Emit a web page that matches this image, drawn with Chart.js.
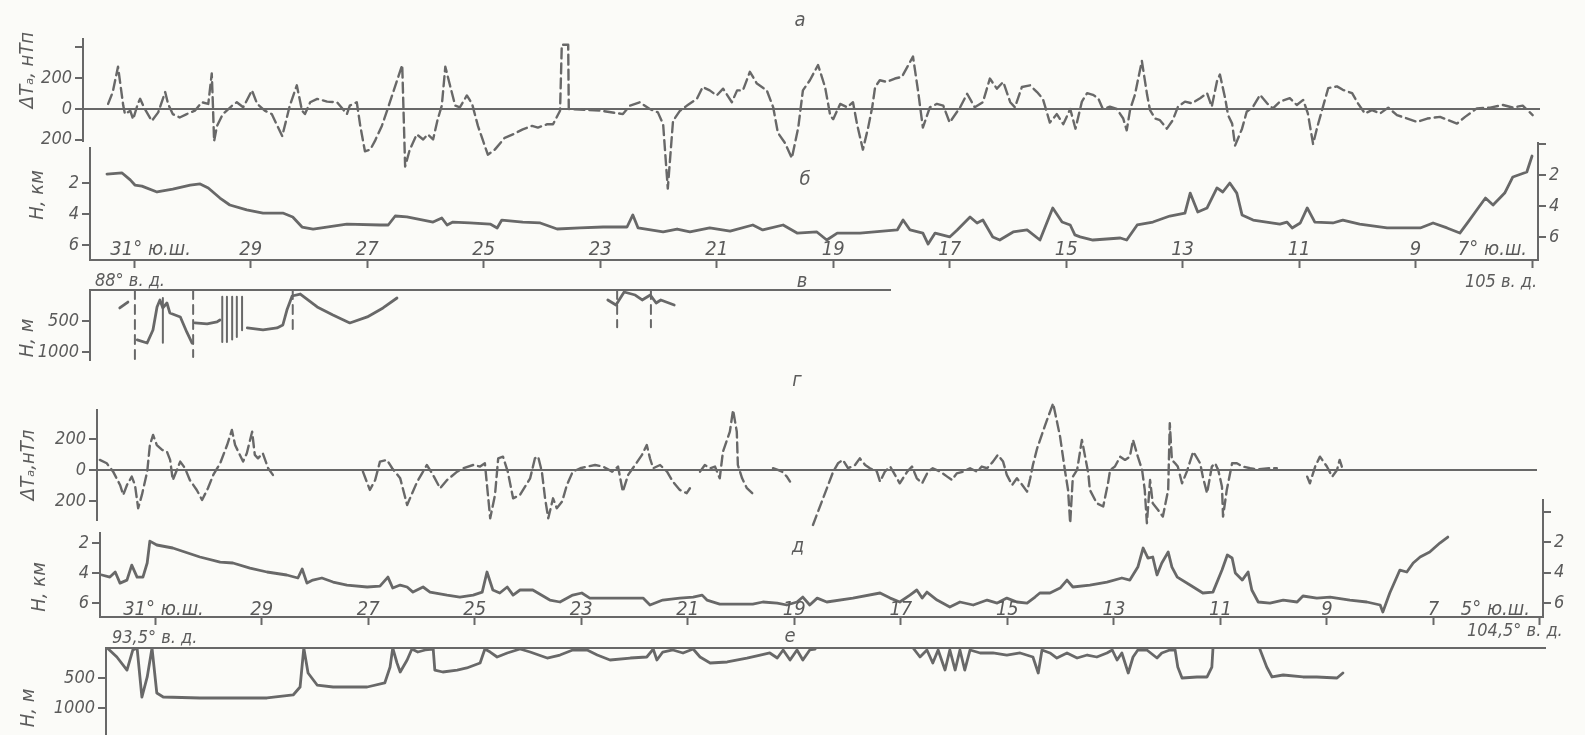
<!DOCTYPE html>
<html lang="ru">
<head>
<meta charset="utf-8">
<title>Профили ΔTa и рельефа дна</title>
<script src="https://cdn.jsdelivr.net/npm/chart.js@4.4.1/dist/chart.umd.min.js"></script>
<style>
  html, body { margin: 0; padding: 0; background: #fbfbf8; }
  #fig { position: relative; width: 1585px; height: 735px; overflow: hidden; }
  #fig canvas { position: absolute; left: 0; top: 0; }
  .t { position: absolute; font-family: "DejaVu Sans Condensed", "DejaVu Sans", sans-serif;
       font-style: italic; color: #5c5c5c; white-space: nowrap; line-height: 1; font-size: 20px; }
  .c { transform: translate(-50%, -50%); }
  .r { transform: translate(-50%, -50%) rotate(-90deg); }
  .m { transform: translateY(-50%); font-size: 18px; }
</style>
</head>
<body>
<div id="fig">
  <canvas id="pA" width="1585" height="735"></canvas>
  <canvas id="pB" width="1585" height="735"></canvas>
  <canvas id="pBR" width="1585" height="735"></canvas>
  <canvas id="pV" width="1585" height="735"></canvas>
  <canvas id="pG" width="1585" height="735"></canvas>
  <canvas id="pD" width="1585" height="735"></canvas>
  <canvas id="pDR" width="1585" height="735"></canvas>
  <canvas id="pE" width="1585" height="735"></canvas>

  <span class="t c" style="left:800px;top:19px">а</span>
  <span class="t c" style="left:805px;top:178px">б</span>
  <span class="t c" style="left:802px;top:280px">в</span>
  <span class="t c" style="left:797px;top:379px">г</span>
  <span class="t c" style="left:798px;top:545px">д</span>
  <span class="t c" style="left:790px;top:635px">е</span>

  <span class="t r" style="left:26px;top:70px">ΔTₐ, нТп</span>
  <span class="t r" style="left:36px;top:195px">H, км</span>
  <span class="t r" style="left:26px;top:338px">H, м</span>
  <span class="t r" style="left:27px;top:465px">ΔTₐ,нТл</span>
  <span class="t r" style="left:38px;top:587px">H, км</span>
  <span class="t r" style="left:27px;top:708px">H, м</span>

  <span class="t m" style="left:95px;top:280px">88° в. д.</span>
  <span class="t m" style="left:1465px;top:281px">105 в. д.</span>
  <span class="t m" style="left:112px;top:637px">93,5° в. д.</span>
  <span class="t m" style="left:1467px;top:630px">104,5° в. д.</span>
</div>
<script>
// ---- latitude ticks (° ю.ш.) ----
const latTop = [31, 29, 27, 25, 23, 21, 19, 17, 15, 13, 11, 9, 7];
const latTopLabels = ['31° ю.ш.', '29', '27', '25', '23', '21', '19', '17', '15', '13', '11', '9', '7° ю.ш.'];
const latBottom = [31, 29, 27, 25, 23, 21, 19, 17, 15, 13, 11, 9, 7, 5];
const latBottomLabels = ['31° ю.ш.', '29', '27', '25', '23', '21', '19', '17', '15', '13', '11', '9', '7', '5° ю.ш.'];

// ---- а: anomaly ΔTa, nT (upper profile) ----
const latA = [
  31.45, 31.37, 31.28, 31.19, 31.16, 31.07, 31.02, 30.94, 30.90, 30.82,
  30.70, 30.59, 30.47, 30.42, 30.34, 30.22, 30.10, 29.96, 29.84, 29.73,
  29.67, 29.65, 29.63, 29.58, 29.48, 29.32, 29.24, 29.13, 28.98, 28.89,
  28.76, 28.64, 28.46, 28.33, 28.21, 28.12, 28.07, 27.98, 27.86, 27.69,
  27.52, 27.42, 27.35, 27.30, 27.18, 27.12, 27.04, 26.95, 26.87, 26.75,
  26.66, 26.40, 26.35, 26.27, 26.15, 26.04, 25.96, 25.87, 25.79, 25.72,
  25.66, 25.58, 25.49, 25.41, 25.29, 25.20, 25.10, 24.93, 24.81, 24.64,
  24.50, 24.33, 24.17, 24.07, 23.91, 23.81, 23.69, 23.66, 23.55, 23.54,
  23.00, 22.61, 22.49, 22.32, 22.15, 22.01, 21.92, 21.84, 21.75, 21.63,
  21.51, 21.34, 21.24, 21.12, 21.00, 20.89, 20.74, 20.65, 20.55, 20.43,
  20.31, 20.14, 20.03, 19.95, 19.83, 19.71, 19.60, 19.52, 19.40, 19.26,
  19.14, 19.05, 19.00, 18.88, 18.76, 18.66, 18.59, 18.49, 18.40, 18.33,
  18.28, 18.20, 18.08, 17.94, 17.82, 17.63, 17.54, 17.51, 17.46, 17.34,
  17.22, 17.11, 17.00, 16.82, 16.70, 16.57, 16.43, 16.31, 16.19, 16.08,
  15.96, 15.88, 15.76, 15.62, 15.50, 15.40, 15.28, 15.16, 15.05, 14.93,
  14.84, 14.73, 14.64, 14.54, 14.45, 14.37, 14.25, 14.13, 14.02, 13.96,
  13.90, 13.82, 13.70, 13.61, 13.56, 13.47, 13.39, 13.27, 13.17, 13.08,
  12.96, 12.84, 12.70, 12.58, 12.50, 12.41, 12.36, 12.27, 12.22, 12.15,
  12.10, 11.98, 11.90, 11.79, 11.67, 11.55, 11.45, 11.33, 11.16, 11.04,
  10.93, 10.85, 10.76, 10.68, 10.59, 10.50, 10.35, 10.25, 10.09, 9.99,
  9.87, 9.75, 9.61, 9.47, 9.32, 9.14, 8.97, 8.80, 8.58, 8.29,
  8.15, 7.95, 7.72, 7.50, 7.33, 7.16, 6.99
];
const anomA = [
  33, 110, 275, 22, -33, -11, -66, 33, 66, 0,
  -77, -22, 110, 33, -33, -55, -33, -11, 44, 33,
  231, 22, -209, -110, -33, 22, 44, 11, 121, 33,
  -11, -33, -176, 22, 154, -11, -33, 44, 66, 48,
  44, 0, -33, 22, 44, -110, -275, -264, -209, -110,
  -11, 286, -374, -264, -165, -198, -165, -198, -66, 22,
  275, 154, 22, 11, 88, 33, -110, -297, -264, -187,
  -165, -132, -110, -121, -99, -99, -11, 418, 418, 0,
  -11, -33, 22, 44, 0, -22, -99, -517, -77, -11,
  22, 66, 143, 121, 88, 132, 44, 121, 121, 242,
  165, 121, 11, -154, -220, -319, -121, 121, 187, 286,
  143, -44, -66, 33, 11, 44, -99, -264, -121, 11,
  143, 187, 176, 198, 209, 341, 110, 22, -121, 11,
  33, 22, -88, 11, 99, 11, 44, 198, 132, 176,
  44, 11, 143, 154, 110, 66, -88, -33, -99, 0,
  -128, 48, 103, 92, 70, 0, 15, 0, -62, -139,
  0, 92, 312, 92, -7, -62, -73, -128, -73, 15,
  48, 37, 70, 103, 15, 180, 224, 70, -40, -95,
  -238, -128, -18, 15, 92, 37, 4, 48, 70, 26,
  59, -29, -227, -106, 15, 136, 147, 125, 103, 37,
  -29, -7, -29, 9, -40, -62, -84, -62, -51, -95,
  -51, 4, 9, 26, 9, 22, -40
];

// ---- б: depth H, km (upper profile) ----
const latB = [
  31.47, 31.21, 31.07, 30.99, 30.87, 30.61, 30.34, 30.04, 29.87, 29.73,
  29.53, 29.36, 29.07, 28.79, 28.45, 28.28, 28.12, 27.93, 27.35, 26.78,
  26.64, 26.52, 26.32, 26.04, 25.87, 25.72, 25.63, 25.53, 25.24, 24.89,
  24.77, 24.69, 24.33, 24.03, 23.74, 23.35, 22.95, 22.54, 22.44, 22.35,
  21.92, 21.68, 21.46, 21.12, 20.77, 20.38, 20.21, 19.86, 19.62, 19.28,
  19.11, 18.93, 18.54, 17.90, 17.80, 17.68, 17.46, 17.37, 17.25, 17.00,
  16.87, 16.65, 16.53, 16.43, 16.26, 16.14, 15.91, 15.67, 15.45, 15.23,
  15.07, 14.93, 14.85, 14.76, 14.54, 14.07, 13.96, 13.78, 13.51, 13.22,
  12.96, 12.87, 12.74, 12.58, 12.41, 12.31, 12.19, 12.07, 11.98, 11.79,
  11.33, 11.21, 11.12, 10.98, 10.86, 10.73, 10.42, 10.25, 9.96, 9.49,
  8.92, 8.70, 8.46, 8.24, 8.10, 7.95, 7.80, 7.67, 7.47, 7.33,
  7.09, 7.00
];
const depthB = [
  1.42, 1.35, 1.80, 2.13, 2.20, 2.58, 2.39, 2.13, 2.06, 2.32,
  2.97, 3.42, 3.74, 3.94, 3.94, 4.19, 4.84, 4.97, 4.65, 4.71,
  4.71, 4.13, 4.19, 4.39, 4.52, 4.26, 4.71, 4.52, 4.58, 4.65,
  4.90, 4.39, 4.52, 4.58, 4.97, 4.90, 4.84, 4.84, 4.06, 4.90,
  5.16, 4.97, 5.16, 4.90, 5.10, 4.71, 5.03, 4.71, 5.23, 5.16,
  5.68, 5.23, 5.23, 5.03, 4.39, 5.03, 5.23, 5.94, 5.23, 5.48,
  5.03, 4.19, 4.58, 4.39, 5.48, 5.68, 5.16, 5.03, 5.68, 3.61,
  4.52, 4.71, 5.35, 5.48, 5.68, 5.55, 5.68, 4.71, 4.52, 4.13,
  3.94, 2.65, 3.87, 3.61, 2.32, 2.58, 2.00, 2.65, 4.06, 4.39,
  4.65, 4.52, 4.90, 4.58, 3.61, 4.52, 4.58, 4.39, 4.65, 4.90,
  4.90, 4.58, 4.90, 5.23, 4.52, 3.74, 2.97, 3.42, 2.65, 1.61,
  1.29, 0.26
];

// ---- в: sediment thickness H, m (upper profile) ----
const latV = [
  31.25, 31.11, 31.11, 30.95, 30.78, 30.68, 30.61, 30.56, 30.51, 30.44,
  30.39, 30.21, 30.10, 30.01, 30.01, 29.96, 29.75, 29.58, 29.53, 29.53,
  29.06, 28.79, 28.55, 28.45, 28.38, 28.29, 28.15, 27.86, 27.59, 27.30,
  27.00, 26.73, 26.49, 26.49, 22.87, 22.73, 22.59, 22.40, 22.28, 22.14,
  22.04, 21.96, 21.73
];
const sedV = [
  290, 194, null, 806, 855, 645, 274, 161, 290, 210,
  371, 435, 677, 855, null, 532, 548, 516, 484, null,
  613, 645, 613, 565, 323, 97, 65, 274, 403, 532,
  435, 290, 129, null, 161, 242, 32, 81, 161, 81,
  210, 161, 242
];
const dashLatV = [30.99, 29.99, 28.28, 22.71, 22.13];
const dashToV = [1130, 1080, 645, 600, 600];
const barLatV = [30.51, 29.49, 29.41, 29.32, 29.24, 29.15];
const barFromV = [130, 110, 110, 110, 110, 110];
const barToV = [850, 840, 840, 800, 760, 650];

// ---- г: anomaly ΔTa, nT (lower profile) ----
const latG = [
  32.04, 31.91, 31.79, 31.66, 31.60, 31.53, 31.44, 31.38, 31.32, 31.25,
  31.15, 31.10, 31.04, 30.97, 30.87, 30.78, 30.72, 30.67, 30.53, 30.44,
  30.35, 30.22, 30.12, 30.01, 29.91, 29.78, 29.65, 29.56, 29.50, 29.41,
  29.35, 29.28, 29.18, 29.13, 29.07, 28.98, 28.88, 28.79, 28.79, 27.10,
  26.97, 26.87, 26.78, 26.65, 26.55, 26.40, 26.27, 26.08, 25.99, 25.90,
  25.80, 25.65, 25.52, 25.33, 25.22, 25.03, 24.90, 24.81, 24.71, 24.62,
  24.56, 24.47, 24.38, 24.28, 24.15, 23.96, 23.87, 23.81, 23.74, 23.68,
  23.62, 23.53, 23.46, 23.36, 23.27, 23.16, 23.02, 22.89, 22.74, 22.59,
  22.42, 22.31, 22.22, 22.12, 21.99, 21.86, 21.77, 21.71, 21.65, 21.52,
  21.39, 21.28, 21.15, 21.02, 20.96, 20.96, 20.77, 20.68, 20.58, 20.49,
  20.40, 20.34, 20.21, 20.15, 20.08, 20.06, 19.98, 19.89, 19.79, 19.79,
  19.40, 19.31, 19.23, 19.14, 19.08, 19.08, 18.65, 18.46, 18.27, 18.18,
  18.09, 17.99, 17.86, 17.77, 17.67, 17.58, 17.45, 17.39, 17.30, 17.20,
  17.11, 17.02, 16.88, 16.79, 16.70, 16.60, 16.49, 16.40, 16.26, 16.13,
  16.04, 15.95, 15.83, 15.70, 15.57, 15.48, 15.38, 15.27, 15.18, 15.08,
  15.01, 14.91, 14.82, 14.72, 14.63, 14.57, 14.52, 14.44, 14.29, 14.14,
  14.01, 13.92, 13.86, 13.82, 13.77, 13.69, 13.60, 13.54, 13.48, 13.45,
  13.32, 13.20, 13.11, 13.07, 12.98, 12.88, 12.79, 12.70, 12.64, 12.55,
  12.47, 12.42, 12.38, 12.32, 12.27, 12.17, 12.08, 11.98, 11.95, 11.91,
  11.85, 11.80, 11.72, 11.63, 11.51, 11.38, 11.33, 11.25, 11.16, 11.10,
  11.04, 10.97, 10.95, 10.88, 10.78, 10.69, 10.58, 10.44, 10.31, 10.07,
  9.94, 9.94, 9.37, 9.32, 9.22, 9.13, 9.00, 8.90, 8.81, 8.76,
  8.70
];
const anomG = [
  65, 43, -11, -97, -161, -97, -43, -97, -247, -161,
  -11, 161, 226, 161, 129, 118, 65, -65, 54, 11,
  -65, -129, -194, -118, -32, 43, 161, 258, 161, 97,
  54, 108, 247, 97, 75, 108, 11, -32, null, -11,
  -129, -65, 54, 65, 11, -54, -226, -75, -22, 32,
  -22, -118, -65, -11, 11, 32, 22, 43, -312, -161,
  75, 86, -11, -183, -161, -54, 75, 86, -11, -183,
  -312, -183, -247, -204, -97, -11, 11, 22, 32, 22,
  -11, 22, -140, -32, 32, 97, 161, 75, 11, 32,
  -11, -75, -129, -150, -118, null, -11, 32, 11, 22,
  -54, 118, 247, 387, 247, 32, -54, -118, -150, null,
  11, 0, -11, -43, -75, null, -355, -183, -11, 43,
  65, 11, 32, 75, 32, 11, -11, -75, -11, 22,
  -32, -86, -11, 22, -54, -86, -11, 11, -11, -43,
  -65, -22, -11, 11, -11, 22, 11, 54, 97, 54,
  -32, -97, -54, -97, -140, -54, 32, 140, 290, 430,
  215, 0, -129, -344, -43, 0, 194, 86, -22, -129,
  -215, -236, -86, 0, 22, 86, 65, 86, 194, 86,
  0, -129, -344, -65, -215, -258, -301, -129, 301, 65,
  43, 22, -86, -11, 118, 43, -43, -150, 22, 43,
  0, -108, -301, -129, 43, 43, 22, 11, 4, 11,
  11, null, -43, -86, 22, 86, 22, -43, 0, 65,
  0
];

// ---- д: depth H, km (lower profile) ----
const latD = [
  32.00, 31.85, 31.75, 31.66, 31.53, 31.44, 31.34, 31.23, 31.15, 31.10,
  30.97, 30.67, 30.16, 29.78, 29.54, 29.22, 28.90, 28.53, 28.32, 28.24,
  28.15, 28.04, 27.87, 27.66, 27.40, 27.02, 26.78, 26.63, 26.54, 26.40,
  26.27, 26.16, 25.97, 25.84, 25.52, 25.28, 25.03, 24.86, 24.77, 24.66,
  24.53, 24.39, 24.28, 24.15, 23.91, 23.59, 23.40, 23.16, 22.99, 22.84,
  22.52, 22.14, 21.84, 21.71, 21.47, 21.15, 20.90, 20.73, 20.64, 20.40,
  19.78, 19.59, 19.32, 19.14, 18.95, 18.84, 18.71, 18.57, 18.39, 17.90,
  17.39, 17.20, 17.02, 16.83, 16.70, 16.60, 16.51, 16.32, 16.08, 15.89,
  15.64, 15.38, 15.19, 15.01, 14.82, 14.63, 14.48, 14.39, 14.20, 14.01,
  13.88, 13.77, 13.45, 13.13, 12.85, 12.70, 12.55, 12.45, 12.36, 12.27,
  12.19, 12.10, 11.98, 11.91, 11.81, 11.57, 11.33, 11.14, 10.97, 10.87,
  10.78, 10.72, 10.59, 10.48, 10.41, 10.29, 10.07, 9.82, 9.56, 9.45,
  9.19, 8.94, 8.57, 8.25, 8.00, 7.95, 7.82, 7.63, 7.50, 7.38,
  7.25, 7.07, 6.88, 6.73
];
const depthD = [
  4.13, 4.27, 3.93, 4.67, 4.47, 3.47, 4.27, 4.27, 3.33, 1.87,
  2.13, 2.33, 2.93, 3.27, 3.33, 3.67, 3.93, 4.13, 4.33, 3.73,
  4.67, 4.47, 4.33, 4.60, 4.80, 4.93, 4.87, 4.27, 5.00, 4.80,
  4.93, 5.27, 4.93, 5.27, 5.47, 5.60, 5.47, 5.27, 3.93, 5.13,
  5.33, 4.93, 5.47, 5.13, 5.13, 5.80, 5.93, 5.47, 5.33, 5.67,
  5.67, 5.67, 5.67, 6.13, 5.80, 5.67, 5.60, 5.47, 5.80, 6.07,
  6.07, 5.93, 6.00, 6.13, 5.93, 5.60, 6.13, 5.67, 5.93, 5.67,
  5.33, 5.67, 5.93, 5.47, 5.13, 5.67, 5.27, 5.80, 6.27, 5.93,
  6.13, 5.80, 6.00, 5.67, 5.93, 6.00, 5.60, 5.33, 5.33, 5.00,
  4.47, 4.93, 4.80, 4.60, 4.33, 4.47, 3.60, 2.33, 3.00, 2.93,
  4.13, 3.33, 2.60, 3.60, 4.27, 4.80, 5.33, 5.27, 3.80, 2.80,
  3.00, 4.00, 4.47, 3.93, 5.13, 5.93, 6.00, 5.80, 5.93, 5.53,
  5.67, 5.60, 5.80, 5.93, 6.13, 6.60, 5.33, 3.80, 3.93, 3.33,
  2.93, 2.60, 2.00, 1.60
];

// ---- е: sediment thickness H, m (lower profile) ----
const latE = [
  31.90, 31.72, 31.53, 31.42, 31.34, 31.25, 31.15, 31.06, 30.97, 30.85,
  30.16, 28.90, 28.41, 28.28, 28.21, 28.13, 27.96, 27.66, 27.02, 26.69,
  26.59, 26.54, 26.46, 26.40, 26.27, 26.18, 26.07, 25.93, 25.78, 25.75,
  25.60, 25.33, 25.15, 24.90, 24.81, 24.71, 24.58, 24.39, 24.15, 23.96,
  23.64, 23.40, 23.16, 22.89, 22.70, 22.46, 22.08, 21.77, 21.65, 21.58,
  21.47, 21.28, 21.09, 20.90, 20.77, 20.58, 20.26, 19.89, 19.64, 19.46,
  19.32, 19.21, 19.08, 18.95, 18.84, 18.71, 18.61, 18.61, 16.77, 16.64,
  16.51, 16.40, 16.30, 16.17, 16.08, 15.98, 15.89, 15.80, 15.70, 15.51,
  15.27, 15.01, 14.76, 14.52, 14.42, 14.35, 14.20, 14.07, 13.88, 13.69,
  13.50, 13.32, 13.13, 13.03, 12.94, 12.85, 12.73, 12.64, 12.55, 12.38,
  12.19, 12.10, 11.95, 11.85, 11.80, 11.72, 11.44, 11.25, 11.16, 11.14,
  11.14, 10.26, 10.13, 10.03, 9.82, 9.45, 9.19, 8.81, 8.70
];
const sedE = [
  0, 150, 367, 33, 0, 817, 483, 0, 750, 817,
  833, 833, 783, 650, 0, 417, 617, 650, 650, 583,
  317, 0, 250, 400, 200, 17, 67, 33, 17, 367,
  400, 367, 333, 250, 17, 67, 150, 83, 17, 67,
  167, 117, 33, 33, 117, 200, 167, 150, 17, 200,
  67, 33, 83, 17, 150, 250, 233, 167, 117, 83,
  167, 33, 200, 33, 200, 33, 17, null, 0, 150,
  33, 250, 33, 367, 33, 367, 33, 367, 33, 83,
  83, 117, 83, 150, 417, 33, 83, 167, 83, 167,
  117, 150, 83, 33, 200, 83, 417, 150, 33, 33,
  167, 83, 33, 33, 317, 500, 483, 483, 317, 17,
  null, 17, 317, 483, 450, 483, 483, 500, 417
];

// ---- drawing ----
const INK = '#686868';
const TXT = '#5a5a5a';
const FAM = '"DejaVu Sans Condensed", "DejaVu Sans", sans-serif';
const TICKFONT = { family: FAM, size: 18, style: 'italic' };

function pairs(xs, ys) {
  return xs.map((x, i) => ({ x: x, y: ys[i] }));
}

function verticals(xs, from, to) {
  const out = [];
  xs.forEach((x, i) => {
    out.push({ x: x, y: from[i] }, { x: x, y: to[i] }, { x: x, y: null });
  });
  return out;
}

function curve(data, extra) {
  return Object.assign({
    data: data, borderColor: INK, borderWidth: 2.8, pointRadius: 0, tension: 0,
    fill: false, spanGaps: false, borderJoinStyle: 'round', borderCapStyle: 'round'
  }, extra || {});
}

function fixBox(w, h) {
  return function (s) {
    if (w !== undefined) s.width = w;
    if (h !== undefined) s.height = h;
    s.paddingTop = 0; s.paddingBottom = 0; s.paddingLeft = 0; s.paddingRight = 0;
  };
}

function yAxis(o) {
  return {
    type: 'linear',
    position: o.position || 'left',
    min: o.min, max: o.max, reverse: !!o.reverse,
    afterBuildTicks: s => { s.ticks = o.ticks.map(v => ({ value: v })); },
    afterFit: fixBox(o.width),
    border: { display: true, color: INK, width: 2 },
    grid: {
      drawOnChartArea: !!o.zero,
      color: c => (o.zero && c.tick && c.tick.value === 0) ? INK : 'rgba(0,0,0,0)',
      lineWidth: 2,
      drawTicks: true, tickLength: 8, tickColor: INK, tickWidth: 2
    },
    ticks: { color: TXT, font: TICKFONT, padding: 3, callback: (v, i) => o.labels[i] }
  };
}

function xHidden(min, max) {
  return { type: 'linear', display: false, min: min, max: max, reverse: true };
}

function xTop(min, max) {
  return {
    type: 'linear', position: 'top', min: min, max: max, reverse: true,
    afterFit: fixBox(undefined, 0),
    border: { display: true, color: INK, width: 2 },
    grid: { display: false }, ticks: { display: false }
  };
}

function xLat(min, max, ticks) {
  return {
    type: 'linear', position: 'bottom', min: min, max: max, reverse: true,
    afterBuildTicks: s => { s.ticks = ticks.map(v => ({ value: v })); },
    afterFit: fixBox(undefined, 12),
    border: { display: true, color: INK, width: 2 },
    grid: { drawOnChartArea: false, drawTicks: true, tickLength: 8, tickColor: INK, tickWidth: 2 },
    ticks: { display: false }
  };
}

// latitude labels sit above the profile's base line, as in the original
const latLabelPlugin = {
  id: 'latLabels',
  afterDraw(chart, args, opts) {
    const x = chart.scales.x, ctx = chart.ctx, n = opts.values.length;
    const base = chart.chartArea.bottom - opts.lift;
    ctx.save();
    ctx.font = 'italic 20px ' + FAM;
    ctx.fillStyle = TXT;
    ctx.textBaseline = 'alphabetic';
    opts.values.forEach((v, i) => {
      const px = x.getPixelForValue(v);
      if (i === 0) { ctx.textAlign = 'left'; ctx.fillText(opts.labels[i], px + opts.firstDx, base); }
      else if (i === n - 1) { ctx.textAlign = 'right'; ctx.fillText(opts.labels[i], px + opts.lastDx, base); }
      else { ctx.textAlign = 'center'; ctx.fillText(opts.labels[i], px, base); }
    });
    ctx.restore();
  }
};

function makeChart(id, padding, scales, datasets, latOpts) {
  const plugins = { legend: { display: false }, tooltip: { enabled: false } };
  if (latOpts) plugins.latLabels = latOpts;
  return new Chart(document.getElementById(id), {
    type: 'line',
    data: { datasets: datasets },
    options: {
      responsive: false, animation: false, events: [],
      layout: { padding: padding },
      plugins: plugins,
      scales: scales
    },
    plugins: latOpts ? [latLabelPlugin] : []
  });
}

const magStyle = { borderWidth: 2.4, borderDash: [10, 5], clip: false };

// а
makeChart('pA', { left: 0, top: 39, right: 45, bottom: 594 }, {
  x: xHidden(6.864, 31.881),
  y: yAxis({ min: -208, max: 455, width: 83, zero: true,
             ticks: [400, 200, 0, -200], labels: ['', '200', '0', '200'] })
}, [curve(pairs(latA, anomA), magStyle)]);

// б
makeChart('pB', { left: 0, top: 148, right: 47, bottom: 463 }, {
  x: xLat(6.898, 31.761, latTop),
  y: yAxis({ min: -0.26, max: 6.97, reverse: true, width: 90, ticks: [2, 4, 6], labels: ['2', '4', '6'] })
}, [curve(pairs(latB, depthB))], { values: latTop, labels: latTopLabels, lift: 5, firstDx: -24, lastDx: -5 });

// б, right-hand depth axis
makeChart('pBR', { left: 0, top: 143, right: 0, bottom: 475 }, {
  x: xHidden(0, 1),
  y: yAxis({ position: 'right', min: -0.06, max: 7.48, reverse: true, width: 47,
             ticks: [0, 2, 4, 6], labels: ['', '2', '4', '6'] })
}, []);

// в
makeChart('pV', { left: 0, top: 290, right: 695, bottom: 375 }, {
  x: xTop(18.025, 31.761),
  y: yAxis({ min: 0, max: 1130, reverse: true, width: 90, ticks: [500, 1000], labels: ['500', '1000'] })
}, [
  curve(pairs(latV, sedV)),
  curve(verticals(dashLatV, dashLatV.map(() => 0), dashToV), { borderWidth: 2, borderDash: [9, 6] }),
  curve(verticals(barLatV, barFromV, barToV), { borderWidth: 2 })
]);

// г
makeChart('pG', { left: 0, top: 410, right: 48, bottom: 215 }, {
  x: xHidden(5.055, 32.093),
  y: yAxis({ min: -323, max: 387, width: 97, zero: true,
             ticks: [200, 0, -200], labels: ['200', '0', '200'] })
}, [curve(pairs(latG, anomG), magStyle)]);

// д
makeChart('pD', { left: 0, top: 533, right: 42, bottom: 106 }, {
  x: xLat(4.943, 32.036, latBottom),
  y: yAxis({ min: 1.33, max: 6.93, reverse: true, width: 100, ticks: [2, 4, 6], labels: ['2', '4', '6'] })
}, [curve(pairs(latD, depthD))], { values: latBottom, labels: latBottomLabels, lift: 2, firstDx: -32, lastDx: -10 });

// д, right-hand depth axis
makeChart('pDR', { left: 0, top: 500, right: 0, bottom: 118 }, {
  x: xHidden(0, 1),
  y: yAxis({ position: 'right', min: -0.8, max: 6.93, reverse: true, width: 42,
             ticks: [0, 2, 4, 6], labels: ['', '2', '4', '6'] })
}, []);

// е
makeChart('pE', { left: 0, top: 648, right: 40, bottom: 0 }, {
  x: xTop(4.905, 31.924),
  y: yAxis({ min: 0, max: 1450, reverse: true, width: 106, ticks: [500, 1000], labels: ['500', '1000'] })
}, [curve(pairs(latE, sedE))]);
</script>
</body>
</html>
